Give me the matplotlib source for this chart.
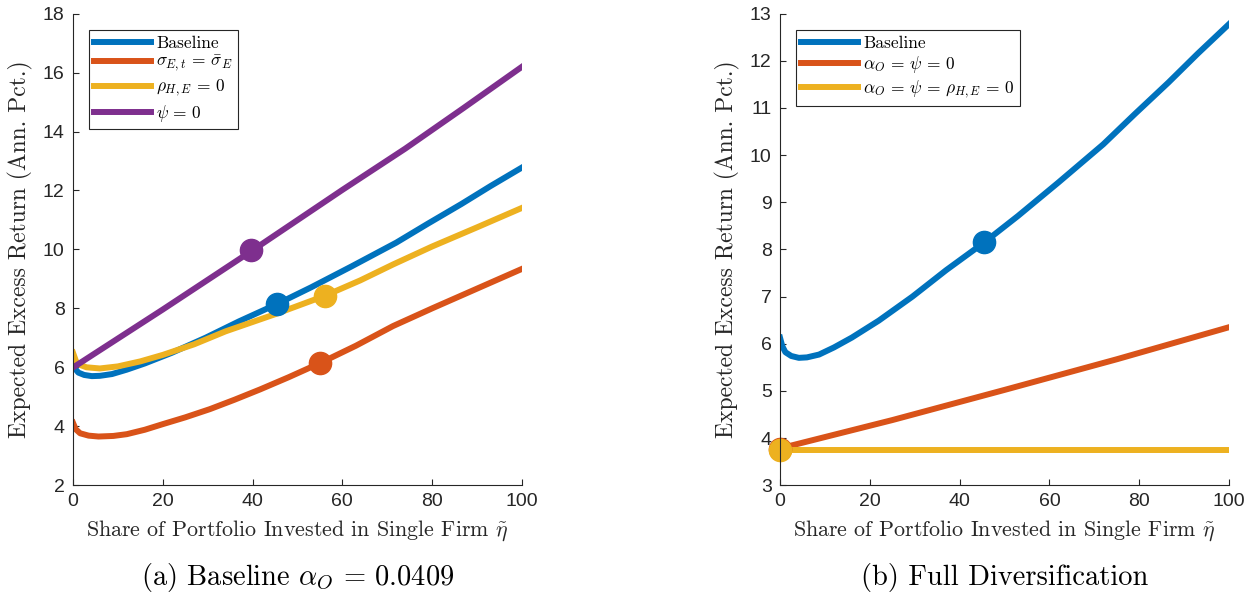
import matplotlib
matplotlib.use("Agg")
import matplotlib.pyplot as plt
import numpy as np

plt.rcParams['mathtext.fontset'] = 'cm'
plt.rcParams['font.family'] = ['Liberation Sans', 'DejaVu Sans']

# MATLAB default colours
blue = '#0072BD'
orange = '#D95319'
yellow = '#EDB120'
purple = '#7E2F8E'

# ---- panel (a) data ----
base_x = [0, 0.5, 1.2, 2.5, 4.2, 6, 8.7, 12, 16, 22, 29.5, 37, 45.5, 53, 62, 72, 79, 86.5, 93, 100]
base_y = [6.13, 5.95, 5.82, 5.74, 5.70, 5.71, 5.77, 5.92, 6.13, 6.49, 7.0, 7.56, 8.15, 8.71, 9.42, 10.23, 10.87, 11.54, 12.15, 12.78]

sig_x = [0, 0.6, 1.6, 3.5, 5.7, 9, 12, 16, 20, 25, 30.5, 36, 41.7, 48, 55, 63, 71.3, 80, 90, 100]
sig_y = [4.12, 3.90, 3.76, 3.68, 3.65, 3.67, 3.73, 3.88, 4.07, 4.30, 4.58, 4.90, 5.25, 5.66, 6.14, 6.73, 7.40, 8.0, 8.67, 9.34]

rho_x = [0, 0.7, 1.6, 3, 6, 10, 15, 20, 27, 34, 45, 56, 64, 71.3, 80, 90, 100]
rho_y = [6.50, 6.20, 6.08, 6.00, 5.96, 6.03, 6.20, 6.42, 6.78, 7.22, 7.80, 8.42, 8.95, 9.49, 10.1, 10.75, 11.41]

psi_x = [0, 20, 40, 60, 74, 87, 100]
psi_y = [5.99, 7.96, 9.97, 12.02, 13.42, 14.8, 16.2]

# optimal shares (dots), panel (a)
dots_a = {
    'base': (45.5, 8.16),
    'sig': (55.0, 6.13),
    'rho': (56.1, 8.42),
    'psi': (39.7, 9.97),
}

# ---- panel (b) data ----
nodiv_x = [0, 25, 50, 75, 100]
nodiv_y = [3.78, 4.38, 5.02, 5.67, 6.35]

flat_x = [0, 100]
flat_y = [3.75, 3.75]

dots_b = {
    'base': (45.5, 8.15),
    'nodiv': (0.0, 3.77),
    'flat': (0.0, 3.75),
}

lw = 4.3
ms = 16

fig = plt.figure(figsize=(12.49, 5.96), dpi=100)
ax1 = fig.add_axes([0.0584, 0.186, 0.3595, 0.791])
ax2 = fig.add_axes([0.6245, 0.186, 0.3595, 0.791])

ax1.plot(base_x, base_y, color=blue, lw=lw, label='Baseline')
ax1.plot(sig_x, sig_y, color=orange, lw=lw, label=r'$\sigma_{E,t}\,=\,\bar{\sigma}_E$')
ax1.plot(rho_x, rho_y, color=yellow, lw=lw, label=r'$\rho_{H,E}\,=\,0$')
ax1.plot(psi_x, psi_y, color=purple, lw=lw, label=r'$\psi\,=\,0$')
for key, col in [('base', blue), ('sig', orange), ('rho', yellow), ('psi', purple)]:
    ax1.plot(*dots_a[key], 'o', color=col, ms=ms)
ax1.set_ylim(2, 18)
ax1.set_yticks(np.arange(2, 19, 2))

ax2.plot(base_x, base_y, color=blue, lw=lw, label='Baseline')
ax2.plot(nodiv_x, nodiv_y, color=orange, lw=lw, label=r'$\alpha_O\,=\,\psi\,=\,0$')
ax2.plot(flat_x, flat_y, color=yellow, lw=lw,
         label=r'$\alpha_O\,=\,\psi\,=\,\rho_{H,E}\,=\,0$')
ax2.plot(*dots_b['base'], 'o', color=blue, ms=ms)
ax2.plot(*dots_b['nodiv'], 'o', color=orange, ms=ms, clip_on=False)
ax2.plot(*dots_b['flat'], 'o', color=yellow, ms=ms, clip_on=False)
ax2.set_ylim(3, 13)
ax2.set_yticks(np.arange(3, 14, 1))

captions = [r'(a) Baseline $\alpha_O\,=\,0.0409$', '(b) Full Diversification']
for ax, cap in zip([ax1, ax2], captions):
    ax.set_xlim(0, 100)
    ax.set_xticks(np.arange(0, 101, 20))
    for s in ['top', 'right']:
        ax.spines[s].set_visible(False)
    for s in ['left', 'bottom']:
        ax.spines[s].set_color('#262626')
        ax.spines[s].set_linewidth(0.8)
    ax.tick_params(direction='in', length=4, width=0.8, color='#262626',
                   labelsize=14, labelcolor='#262626', pad=6)
    ax.set_xlabel(r'Share of Portfolio Invested in Single Firm $\tilde{\eta}$',
                  fontfamily='cmr10', fontsize=15.8, color='#262626', labelpad=6)
    ax.set_ylabel('Expected Excess Return (Ann. Pct.)',
                  fontfamily='cmr10', fontsize=17, color='#262626', labelpad=7)
    leg = ax.legend(loc='upper left', bbox_to_anchor=(0.035, 0.965),
                    prop={'family': 'cmr10', 'size': 12.5},
                    handlelength=3.3, handletextpad=0.3, labelspacing=0.2,
                    borderpad=0.3, borderaxespad=0.0, fancybox=False,
                    framealpha=1, edgecolor='#262626')
    leg.get_frame().set_linewidth(0.8)
    ax.text(0.5, -0.212, cap, transform=ax.transAxes, ha='center', va='baseline',
            fontfamily='cmr10', fontsize=20.5)

fig.savefig('out.png', dpi=100)
